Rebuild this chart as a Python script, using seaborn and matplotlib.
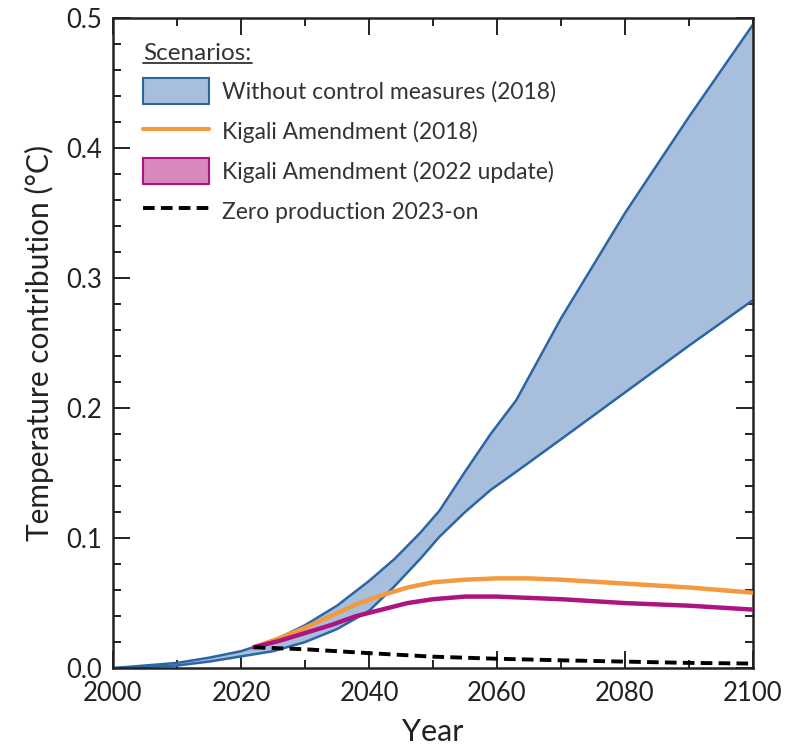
import matplotlib
matplotlib.use("Agg")
import matplotlib.pyplot as plt
import seaborn as sns
import numpy as np
import pandas as pd
from matplotlib.patches import Patch
from matplotlib.lines import Line2D
from matplotlib.ticker import MultipleLocator

# --- data ---
band_years = [2000, 2005, 2010, 2015, 2020, 2025, 2030, 2035, 2040, 2044, 2048, 2051, 2055, 2059, 2063, 2070, 2080, 2090, 2100]
band_upper = [0.000, 0.002, 0.004, 0.008, 0.013, 0.021, 0.033, 0.048, 0.067, 0.084, 0.104, 0.121, 0.151, 0.180, 0.206, 0.269, 0.350, 0.424, 0.495]
band_lower = [0.000, 0.001, 0.002, 0.005, 0.009, 0.013, 0.020, 0.030, 0.044, 0.063, 0.084, 0.101, 0.120, 0.137, 0.151, 0.176, 0.212, 0.248, 0.283]

kig_years = [2022, 2026, 2030, 2034, 2038, 2042, 2046, 2050, 2055, 2060, 2065, 2070, 2080, 2090, 2100]
kigali_2018 = [0.016, 0.023, 0.031, 0.040, 0.049, 0.056, 0.062, 0.066, 0.068, 0.069, 0.069, 0.068, 0.065, 0.062, 0.058]
kigali_2022 = [0.016, 0.021, 0.027, 0.033, 0.040, 0.045, 0.050, 0.053, 0.055, 0.055, 0.054, 0.053, 0.050, 0.048, 0.045]

zero_years = [2022, 2030, 2040, 2050, 2060, 2070, 2080, 2090, 2100]
zero_prod = [0.016, 0.0145, 0.0115, 0.0088, 0.0072, 0.006, 0.005, 0.004, 0.0035]

labels = ["Without control measures (2018)", "Kigali Amendment (2018)",
          "Kigali Amendment (2022 update)", "Zero production 2023-on"]

sns.set_theme(style="ticks")
plt.rcParams['font.family'] = ['Lato', 'DejaVu Sans']

blue_edge = "#2c65a3"
blue_fill = "#a7bfdd"
orange = "#f3993e"
magenta = "#ad1480"
pink = "#d987bd"

fig = plt.figure(figsize=(7.88, 7.49), dpi=100)
ax = fig.add_axes([0.1434, 0.108, 0.8122, 0.868])

ax.fill_between(band_years, band_lower, band_upper, color=blue_fill, lw=0, zorder=1)
sns.lineplot(x=band_years, y=band_upper, ax=ax, color=blue_edge, lw=1.8, zorder=2)
sns.lineplot(x=band_years, y=band_lower, ax=ax, color=blue_edge, lw=1.8, zorder=2)
sns.lineplot(x=kig_years, y=kigali_2018, ax=ax, color=orange, lw=3.2, zorder=3)
sns.lineplot(x=kig_years, y=kigali_2022, ax=ax, color=magenta, lw=3.2, zorder=4)
sns.lineplot(x=zero_years, y=zero_prod, ax=ax, color="black", lw=2.8, zorder=5)
ax.lines[-1].set_dashes([3, 1.6])

ax.set_xlim(2000, 2100)
ax.set_ylim(0, 0.5)
ax.xaxis.set_major_locator(MultipleLocator(20))
ax.xaxis.set_minor_locator(MultipleLocator(10))
ax.yaxis.set_major_locator(MultipleLocator(0.1))
ax.yaxis.set_minor_locator(MultipleLocator(0.02))
ax.yaxis.set_major_formatter(matplotlib.ticker.FormatStrFormatter('%.1f'))
ax.tick_params(which='both', direction='in', top=True, right=True, colors='#222222',
               labelcolor='#222222', width=1.4)
ax.tick_params(which='major', length=12, labelsize=18.5)
ax.tick_params(axis='y', which='major', pad=8)
ax.tick_params(axis='x', which='major', pad=9)
ax.tick_params(which='minor', length=6)
for s in ax.spines.values():
    s.set_linewidth(1.8)
    s.set_color('#222222')

ax.set_xlabel("Year", fontsize=22, color='#222222', labelpad=9)
ax.set_ylabel("Temperature contribution (°C)", fontsize=21.5, color='#222222', labelpad=9)

handles = [Patch(facecolor=blue_fill, edgecolor=blue_edge, lw=1.5),
           Line2D([], [], color=orange, lw=3),
           Patch(facecolor=pink, edgecolor=magenta, lw=1.5),
           Line2D([], [], color='black', lw=2.8, dashes=[3, 1.6])]
leg = ax.legend(handles, labels, loc='upper left', bbox_to_anchor=(0.008, 1.0),
                frameon=False, fontsize=16.5,
                title="Scenarios:", title_fontsize=17.5,
                handlelength=2.85, handleheight=1.35, handletextpad=0.6,
                labelspacing=0.62, borderaxespad=0.8, borderpad=0.3, alignment='left')
for t in leg.get_texts():
    t.set_color('#333333')
leg.get_title().set_color('#333333')

# underline legend title
fig.canvas.draw()
bb = leg.get_title().get_window_extent().transformed(fig.transFigure.inverted())
fig.add_artist(Line2D([bb.x0, bb.x1], [bb.y0 + 0.002, bb.y0 + 0.002],
                      color='#333333', lw=1.3, transform=fig.transFigure))

fig.savefig("out.png", dpi=100)
